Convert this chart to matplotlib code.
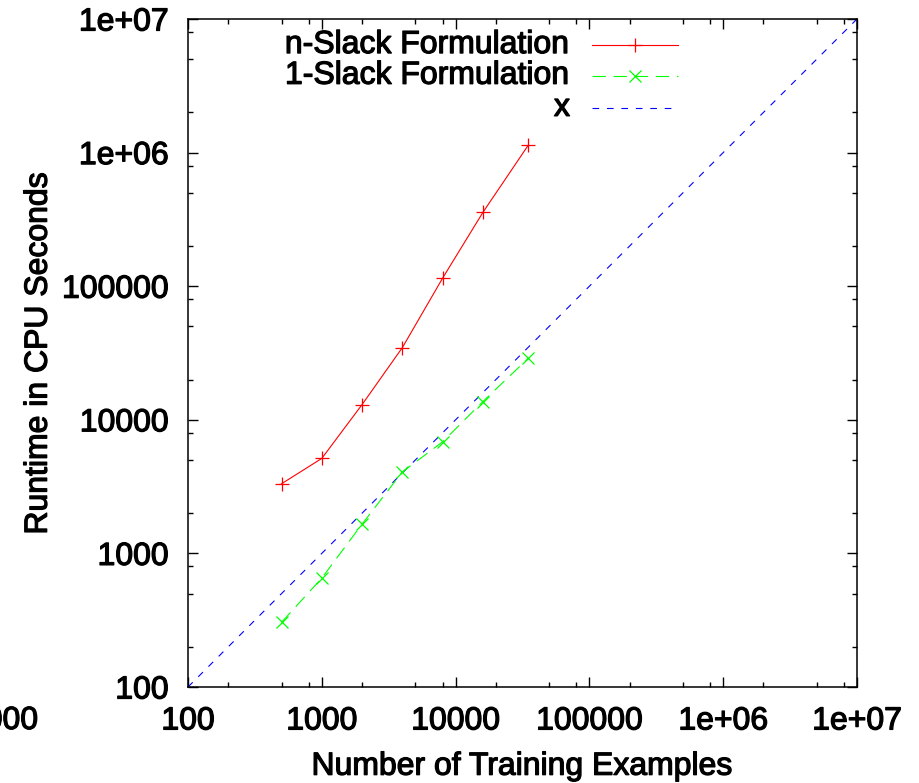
import matplotlib
matplotlib.use("Agg")
import matplotlib.pyplot as plt
import matplotlib.patheffects as pe
from matplotlib.lines import Line2D
from matplotlib.ticker import LogLocator, NullFormatter

# data
n_examples = [500, 1000, 2000, 4000, 8000, 16000, 35000]
nslack_time = [3320, 5140, 13000, 34700, 115000, 357000, 1140000]
oneslack_time = [305, 653, 1656, 4075, 6840, 13700, 28900]
diag_x = [100, 1e7]

tick_vals = [100, 1000, 10000, 100000, 1e6, 1e7]
tick_lbls = ["100", "1000", "10000", "100000", "1e+06", "1e+07"]

plt.rcParams['font.family'] = ['Liberation Sans', 'DejaVu Sans']
fs = 23
# gnuplot renders its text heavier than plain Arial
heavy = [pe.withStroke(linewidth=0.9, foreground='black')]

fig = plt.figure(figsize=(9.2, 7.83), dpi=100)
ax = fig.add_axes([188 / 920, 1 - 687 / 783, 669 / 920, 668 / 783])

ax.plot(diag_x, diag_x, color='#0000ff', lw=0.8, dashes=(6, 7))
ax.plot(n_examples, oneslack_time, color='#00ff00', lw=0.8, dashes=(12, 7),
        marker='x', ms=9, mew=0.9)
ax.plot(n_examples, nslack_time, color='#ff0000', lw=0.8,
        marker='+', ms=10, mew=0.9)

ax.set_xscale('log')
ax.set_yscale('log')
ax.set_xlim(100, 1e7)
ax.set_ylim(100, 1e7)

for axis in (ax.xaxis, ax.yaxis):
    axis.set_major_locator(LogLocator(base=10, subs=(1.0,)))
    axis.set_minor_locator(LogLocator(base=10, subs=(2.0, 5.0, 8.0)))
    axis.set_minor_formatter(NullFormatter())
ax.set_xticks(tick_vals)
ax.set_xticklabels(tick_lbls)
ax.set_yticks(tick_vals)
ax.set_yticklabels(tick_lbls)

ax.tick_params(which='both', direction='in', top=True, right=True,
               labelsize=fs, width=1)
ax.tick_params(which='major', length=7.5)
ax.tick_params(axis='x', which='major', pad=14)
ax.tick_params(axis='y', which='major', pad=14)
ax.tick_params(which='minor', length=3.5)
for s in ax.spines.values():
    s.set_linewidth(1.1)
for t in ax.get_xticklabels() + ax.get_yticklabels():
    t.set_path_effects(heavy)

ax.set_xlabel("Number of Training Examples", fontsize=fs, labelpad=11,
              path_effects=heavy)
ax.set_ylabel("Runtime in CPU Seconds", fontsize=fs, labelpad=6,
              path_effects=heavy)

# gnuplot-like key, text right-aligned, sample on the right
key = [("n-Slack Formulation", dict(color='#ff0000', marker='+', ms=10, mew=0.9)),
       ("1-Slack Formulation", dict(color='#00ff00', marker='x', ms=9, mew=0.9, dashes=(12, 7))),
       ("x", dict(color='#0000ff', dashes=(6, 7)))]
rows = [0.961, 0.915, 0.867]
for (label, style), yy in zip(key, rows):
    ax.text(0.571, yy, label, transform=ax.transAxes, ha='right', va='center',
            fontsize=fs, path_effects=heavy)
    ax.add_line(Line2D([0.604, 0.732], [yy, yy], transform=ax.transAxes,
                       lw=0.8, markevery=[], **style))
    if 'marker' in style:
        ax.add_line(Line2D([0.668], [yy], transform=ax.transAxes, ls='none',
                           color=style['color'], marker=style['marker'],
                           ms=style['ms'], mew=style['mew']))

# clipped stray label at the left edge, as in the source image
fig.text(38 / 920, 1 - 721 / 783, "1000", ha='right', va='center', fontsize=fs,
         path_effects=heavy)

fig.savefig("out.png", dpi=100)
